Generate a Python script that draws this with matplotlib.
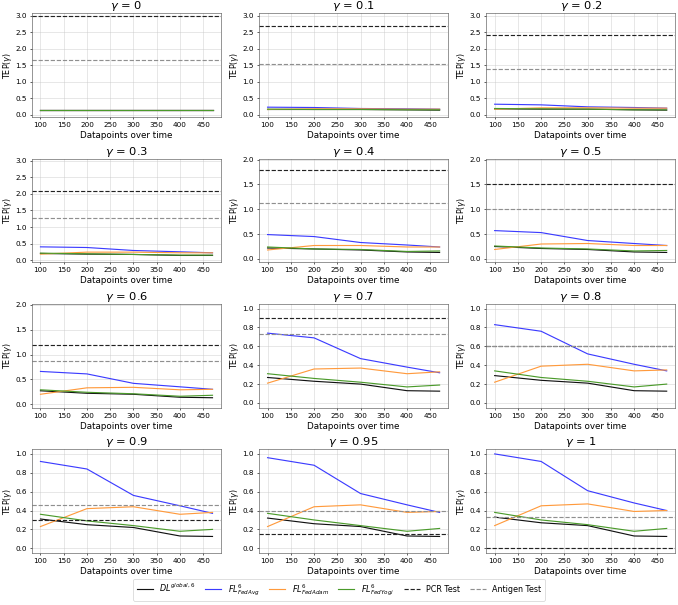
import matplotlib as mpl
mpl.use('Agg')
import matplotlib.pyplot as plt
import matplotlib.ticker as ticker
import numpy as np

# =========================================================
#   Data
# =========================================================

gammas = [0, 0.1, 0.2, 0.3, 0.4, 0.5, 0.6, 0.7, 0.8, 0.9, 0.95, 1]
gamma_labels = ['0', '0.1', '0.2', '0.3', '0.4', '0.5', '0.6', '0.7', '0.8', '0.9', '0.95', '1']
datapoints = [100, 200, 300, 400, 470]

dl_global = [
    [0.15, 0.15, 0.15, 0.15, 0.15],
    [0.16, 0.16, 0.16, 0.15, 0.14],
    [0.18, 0.17, 0.17, 0.15, 0.14],
    [0.20, 0.18, 0.17, 0.14, 0.14],
    [0.22, 0.20, 0.18, 0.14, 0.13],
    [0.25, 0.21, 0.19, 0.14, 0.13],
    [0.27, 0.22, 0.20, 0.14, 0.13],
    [0.27, 0.23, 0.20, 0.13, 0.125],
    [0.29, 0.24, 0.21, 0.13, 0.125],
    [0.31, 0.25, 0.22, 0.13, 0.125],
    [0.32, 0.26, 0.23, 0.13, 0.125],
    [0.33, 0.27, 0.24, 0.13, 0.125],
]
fl_fedavg = [
    [0.15, 0.15, 0.15, 0.15, 0.15],
    [0.23, 0.22, 0.19, 0.18, 0.17],
    [0.32, 0.30, 0.24, 0.22, 0.20],
    [0.40, 0.38, 0.29, 0.25, 0.22],
    [0.49, 0.45, 0.33, 0.28, 0.24],
    [0.57, 0.53, 0.37, 0.31, 0.27],
    [0.66, 0.61, 0.42, 0.35, 0.30],
    [0.74, 0.69, 0.47, 0.38, 0.32],
    [0.83, 0.76, 0.52, 0.41, 0.34],
    [0.92, 0.84, 0.56, 0.45, 0.37],
    [0.96, 0.88, 0.58, 0.46, 0.38],
    [1.00, 0.92, 0.61, 0.48, 0.40],
]
fl_fedadam = [
    [0.15, 0.15, 0.15, 0.15, 0.15],
    [0.16, 0.18, 0.18, 0.17, 0.17],
    [0.17, 0.21, 0.21, 0.20, 0.20],
    [0.18, 0.24, 0.24, 0.22, 0.22],
    [0.18, 0.27, 0.27, 0.24, 0.24],
    [0.19, 0.30, 0.31, 0.27, 0.27],
    [0.20, 0.33, 0.34, 0.29, 0.30],
    [0.21, 0.36, 0.37, 0.31, 0.33],
    [0.22, 0.39, 0.41, 0.34, 0.35],
    [0.23, 0.42, 0.44, 0.36, 0.38],
    [0.23, 0.44, 0.46, 0.38, 0.39],
    [0.24, 0.45, 0.47, 0.39, 0.40],
]
fl_fedyogi = [
    [0.15, 0.15, 0.15, 0.15, 0.15],
    [0.17, 0.16, 0.16, 0.15, 0.15],
    [0.19, 0.18, 0.17, 0.15, 0.15],
    [0.21, 0.19, 0.17, 0.15, 0.15],
    [0.24, 0.20, 0.19, 0.15, 0.16],
    [0.26, 0.22, 0.20, 0.16, 0.17],
    [0.29, 0.24, 0.21, 0.16, 0.18],
    [0.31, 0.26, 0.22, 0.17, 0.19],
    [0.34, 0.27, 0.23, 0.17, 0.20],
    [0.36, 0.29, 0.24, 0.18, 0.20],
    [0.37, 0.30, 0.24, 0.18, 0.21],
    [0.38, 0.30, 0.25, 0.18, 0.21],
]
pcr_test = [3.0, 2.7, 2.4, 2.1, 1.8, 1.5, 1.2, 0.9, 0.6, 0.3, 0.15, 0.0]
antigen_test = [1.67, 1.53, 1.40, 1.27, 1.13, 1.0, 0.87, 0.73, 0.60, 0.46, 0.40, 0.33]

y_top = [3.0, 3.0, 3.0, 3.0, 2.0, 2.0, 2.0, 1.0, 1.0, 1.0, 1.0, 1.0]

labels = [r'$DL^{global,6}$', r'$FL^{6}_{FedAvg}$', r'$FL^{6}_{FedAdam}$',
          r'$FL^{6}_{FedYogi}$', 'PCR Test', 'Antigen Test']
colors = ['#111111', '#3b3bff', '#ff9a3c', '#4a9a2a']

# =========================================================
#   Plot
# =========================================================

fig, axes = plt.subplots(4, 3, figsize=(678 / 55, 605 / 55), dpi=55)
fig.subplots_adjust(left=0.047, right=0.996, top=0.978, bottom=0.086,
                    wspace=0.2, hspace=0.40)

for i, ax in enumerate(axes.flat):
    series = [dl_global[i], fl_fedavg[i], fl_fedadam[i], fl_fedyogi[i]]
    for vals, c in zip(series, colors):
        ax.plot(datapoints, vals, color=c, linewidth=1.5)
    ax.axhline(pcr_test[i], color='#222222', linestyle='--', linewidth=1.5)
    ax.axhline(antigen_test[i], color='#8f8f8f', linestyle='--', linewidth=1.5)

    top = y_top[i]
    if top == 3.0:
        ax.set_ylim(-0.07, 3.07)
        ax.yaxis.set_major_locator(ticker.MultipleLocator(0.5))
    elif top == 2.0:
        ax.set_ylim(-0.07, 2.02)
        ax.yaxis.set_major_locator(ticker.MultipleLocator(0.5))
    else:
        ax.set_ylim(-0.05, 1.05)
        ax.yaxis.set_major_locator(ticker.MultipleLocator(0.2))
    ax.yaxis.set_major_formatter(ticker.FormatStrFormatter('%.1f'))

    ax.set_title(r'$\gamma$ = ' + gamma_labels[i], fontsize=15, pad=4)
    ax.set_xlabel('Datapoints over time', fontsize=11.5)
    ax.set_ylabel(r'TEP($\gamma$)', fontsize=10.5, labelpad=2)
    ax.set_xticks([100, 150, 200, 250, 300, 350, 400, 450])
    ax.tick_params(labelsize=9.5, length=3)
    ax.grid(color='#c8c8c8', alpha=0.7)
    for s in ax.spines.values():
        s.set_color('#555555')

handles = [plt.Line2D([], [], color=c, linewidth=1.5) for c in colors]
handles.append(plt.Line2D([], [], color='#222222', linestyle='--', linewidth=1.5))
handles.append(plt.Line2D([], [], color='#8f8f8f', linestyle='--', linewidth=1.5))
fig.legend(handles, labels, loc='lower center', ncol=6,
           bbox_to_anchor=(0.5, 0.0), fontsize=10.5, handlelength=2.0,
           columnspacing=1.2)

plt.savefig('out.png', dpi=55)
